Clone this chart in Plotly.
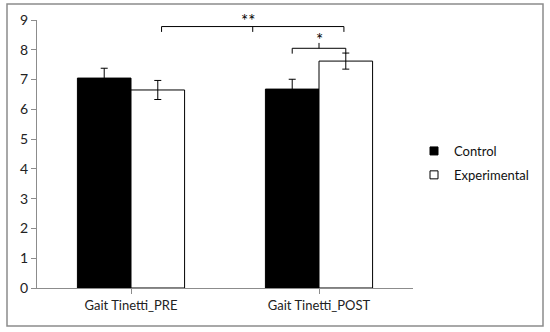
import plotly.graph_objects as go

categories = ["Gait Tinetti_PRE", "Gait Tinetti_POST"]
control = [7.05, 6.68]
control_err = [0.33, 0.33]
experimental = [6.65, 7.62]
experimental_err = [0.32, 0.27]
sig_labels = ["**", "*"]
sig_levels = [8.78, 8.05]

W, H = 550, 332
L, R, T, B = 37, 137, 20, 44
pw, ph = W - L - R, H - T - B

fig = go.Figure()
fig.add_trace(go.Bar(
    x=[0, 1], y=control, name="Control", showlegend=False,
    marker=dict(color="black", line=dict(color="black", width=1)),
    error_y=dict(type="data", array=control_err, color="black", thickness=1, width=3.5),
))
fig.add_trace(go.Bar(
    x=[0, 1], y=experimental, name="Experimental", showlegend=False,
    marker=dict(color="white", line=dict(color="black", width=1)),
    error_y=dict(type="data", array=experimental_err, color="black", thickness=1, width=3.5),
))
fig.add_trace(go.Scatter(x=[None], y=[None], mode="markers", name="Control", legendgroup="a",
                         marker=dict(symbol="square", size=8, color="black",
                                     line=dict(color="black", width=1))))
fig.add_trace(go.Scatter(x=[None], y=[None], mode="markers", name="Experimental", legendgroup="b",
                         marker=dict(symbol="square", size=8, color="white",
                                     line=dict(color="black", width=1))))

bargap = 0.43
bw = (1 - bargap) / 2
off = bw / 2
c_pre_exp = 0 + off
c_post_ctrl = 1 - off
c_post_exp = 1 + off

tick = 0.18
shapes = []
def bracket(x0, x1, y, mid_up):
    s = []
    s.append(dict(type="line", xref="x", yref="y", x0=x0, x1=x1, y0=y, y1=y))
    s.append(dict(type="line", xref="x", yref="y", x0=x0, x1=x0, y0=y, y1=y - tick))
    s.append(dict(type="line", xref="x", yref="y", x0=x1, x1=x1, y0=y, y1=y - tick))
    xm = (x0 + x1) / 2
    if mid_up:
        s.append(dict(type="line", xref="x", yref="y", x0=xm, x1=xm, y0=y, y1=y + tick))
    else:
        s.append(dict(type="line", xref="x", yref="y", x0=xm, x1=xm, y0=y, y1=y - tick))
    return s

shapes += bracket(c_pre_exp + 0.02, c_post_exp - 0.01, sig_levels[0], False)
shapes += bracket(c_post_ctrl, c_post_exp, sig_levels[1], True)
for s in shapes:
    s["line"] = dict(color="black", width=1)

bx0, by0, bx1, by1 = 7, 4, 543, 326
shapes.append(dict(type="rect", xref="paper", yref="paper",
                   x0=(bx0 - L) / pw, x1=(bx1 - L) / pw,
                   y0=(H - B - by1) / ph, y1=(H - B - by0) / ph,
                   line=dict(color="#8c8c8c", width=1.5), fillcolor="rgba(0,0,0,0)", layer="below"))

annotations = [
    dict(x=(c_pre_exp + c_post_exp) / 2 - 0.02, y=sig_levels[0] - 0.2, xref="x", yref="y",
         text=sig_labels[0], showarrow=False, yanchor="bottom", font=dict(size=17, color="black")),
    dict(x=(c_post_ctrl + c_post_exp) / 2, y=sig_levels[1] - 0.12, xref="x", yref="y",
         text=sig_labels[1], showarrow=False, yanchor="bottom", font=dict(size=17, color="black")),
]

fig.update_layout(
    width=W, height=H,
    margin=dict(l=L, r=R, t=T, b=B, pad=0, autoexpand=False),
    paper_bgcolor="white", plot_bgcolor="white",
    barmode="group", bargap=bargap, bargroupgap=0,
    font=dict(family="Lato, Carlito, sans-serif", size=13, color="#222"),
    showlegend=True,
    legend=dict(x=(414 - L) / pw, y=(H - B - 136) / ph, xanchor="left", yanchor="top",
                bgcolor="rgba(0,0,0,0)", font=dict(size=13, color="#111"),
                itemwidth=30, tracegroupgap=4),
    shapes=shapes, annotations=annotations,
)
fig.update_xaxes(
    tickmode="array", tickvals=[0, 1], ticktext=categories, range=[-0.5, 1.5],
    showline=True, linecolor="#8c8c8c", linewidth=1, ticks="outside", ticklen=5,
    tickcolor="#8c8c8c", showgrid=False, zeroline=False,
    tickfont=dict(size=13, color="#222"),
)
fig.update_yaxes(
    range=[0, 9], dtick=1, showline=True, linecolor="#8c8c8c", linewidth=1,
    ticks="outside", ticklen=5, tickcolor="#8c8c8c", showgrid=False, zeroline=False,
    tickfont=dict(size=14, color="#222"),
)
fig.write_html("out.html", config={"displayModeBar": False},
               post_script="document.body.style.margin='0';")
